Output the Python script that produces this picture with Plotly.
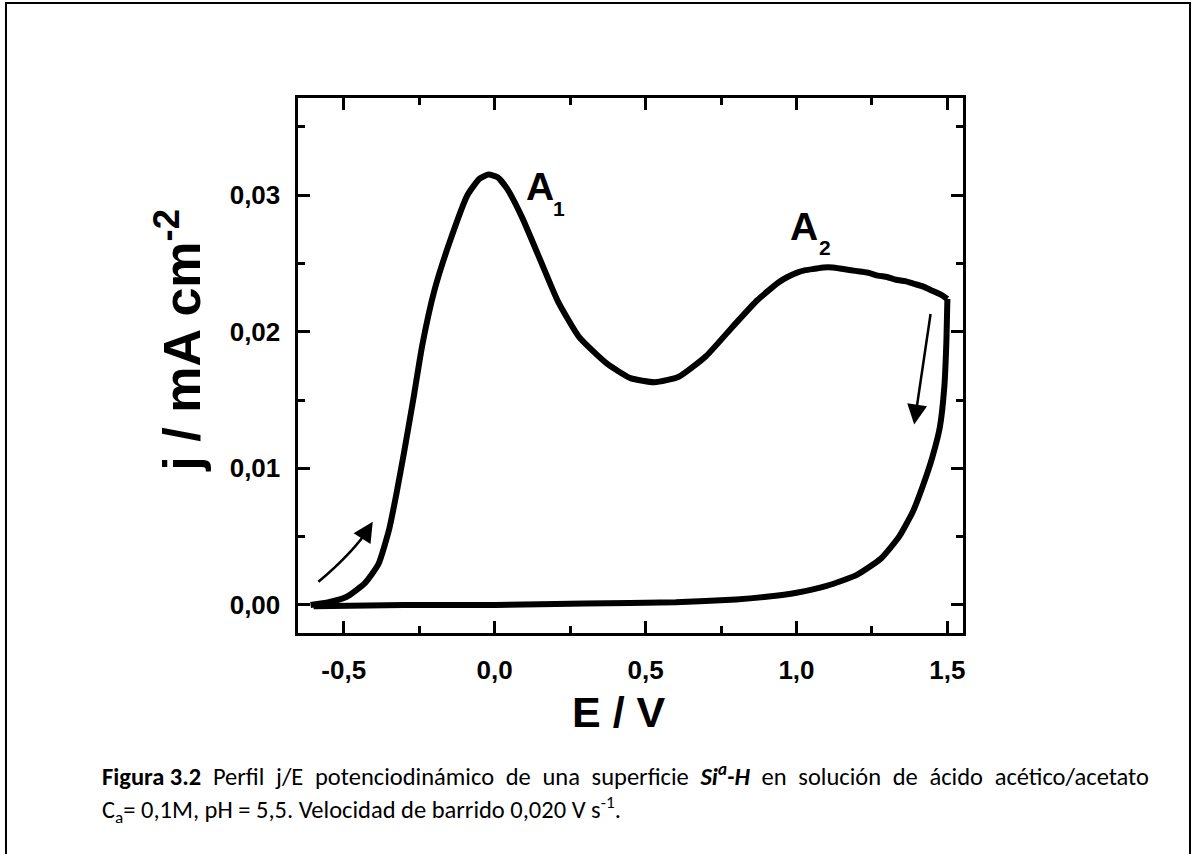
import plotly.graph_objects as go

# ---------------- data ----------------
E_forward = [-0.61, -0.55, -0.49, -0.43, -0.385, -0.35, -0.325, -0.30, -0.27, -0.24,
             -0.20, -0.15, -0.09, -0.05, -0.02, 0.01, 0.04, 0.09, 0.15, 0.21,
             0.28, 0.37, 0.45, 0.53, 0.61, 0.70, 0.79, 0.87, 0.94, 0.97,
             1.00, 1.03, 1.06, 1.09, 1.12, 1.15, 1.18, 1.21, 1.24, 1.27,
             1.30, 1.33, 1.36, 1.39, 1.42, 1.45, 1.48, 1.50]
j_forward = [0.0000, 0.0002, 0.0006, 0.0016, 0.0030, 0.0055, 0.0082, 0.0112, 0.0150, 0.0190,
             0.0230, 0.0265, 0.0300, 0.0312, 0.0315, 0.0313, 0.0305, 0.0284, 0.0253, 0.0222,
             0.0196, 0.0177, 0.0166, 0.0163, 0.0167, 0.0182, 0.0204, 0.0223, 0.0236, 0.0240,
             0.0243, 0.0245, 0.0246, 0.0247, 0.0247, 0.0246, 0.0245, 0.0244, 0.0243, 0.0241,
             0.0240, 0.0238, 0.0237, 0.0235, 0.0233, 0.0230, 0.0227, 0.0224]

E_reverse = [1.50, 1.497, 1.49, 1.475, 1.45, 1.42, 1.385, 1.34, 1.28, 1.20,
             1.10, 1.00, 0.90, 0.80, 0.60, 0.30, 0.00, -0.30, -0.60]
j_reverse = [0.0224, 0.0195, 0.0160, 0.0130, 0.0108, 0.0088, 0.0068, 0.0050, 0.0034, 0.0022,
             0.0014, 0.0009, 0.0006, 0.0004, 0.0002, 0.0001, 0.0000, 0.0000, -0.0001]

x_tickvals = [-0.5, 0.0, 0.5, 1.0, 1.5]
x_ticktext = ["-0,5", "0,0", "0,5", "1,0", "1,5"]
x_minor = [-0.25, 0.25, 0.75, 1.25]
y_tickvals = [0.00, 0.01, 0.02, 0.03]
y_ticktext = ["0,00", "0,01", "0,02", "0,03"]
y_minor = [0.005, 0.015, 0.025, 0.035]

x_range = [-0.65, 1.553]
y_range = [-0.00205, 0.0371]

J = " \u2005"  # justified word gap
caption_words1 = ["<b>Figura 3.2</b>", "Perfil", "j/E", "potenciodinámico", "de", "una",
                  "superficie", "<b><i>Si<sup>a</sup>-H</i></b>", "en", "solución", "de",
                  "ácido", "acético/acetato"]
caption_line1 = J.join(caption_words1)
caption_line2 = "C<sub>a</sub>= 0,1M, pH = 5,5. Velocidad de barrido 0,020 V s<sup>-1</sup>."

# ---------------- figure ----------------
W, H = 1195, 854
def px(x):
    return x / W
def py(y):
    return 1 - y / H

fig = go.Figure()
for E, j in ((E_forward, j_forward), (E_reverse, j_reverse)):
    fig.add_trace(go.Scatter(x=E, y=j, mode="lines",
                             line=dict(color="black", width=6, shape="spline", smoothing=0.5),
                             hoverinfo="skip"))

tickfont = dict(family="Liberation Sans, Arial", size=26, color="black", weight="bold")
axis_common = dict(showline=True, linewidth=3, linecolor="black", mirror="ticks",
                   ticks="inside", ticklen=12, tickwidth=3, tickcolor="black",
                   showgrid=False, zeroline=False, tickfont=tickfont, fixedrange=True)

fig.update_xaxes(domain=[px(299), px(965)], range=x_range, tickmode="array",
                 tickvals=x_tickvals, ticktext=x_ticktext, ticklabelstandoff=12,
                 minor=dict(tickmode="array", tickvals=x_minor, ticks="inside",
                            ticklen=7, tickwidth=3, tickcolor="black"),
                 **axis_common)
fig.update_yaxes(domain=[py(633), py(98)], range=y_range, tickmode="array",
                 tickvals=y_tickvals, ticktext=y_ticktext, ticklabelstandoff=10,
                 minor=dict(tickmode="array", tickvals=y_minor, ticks="inside",
                            ticklen=7, tickwidth=3, tickcolor="black"),
                 **axis_common)

bold = lambda s: dict(family="Liberation Sans, Arial", size=s, color="black", weight="bold")
cap_font = dict(family="Carlito, Calibri, Lato", size=24.5, color="black")

annotations = [
    # axis titles
    dict(text="E / V", x=px(620), y=py(712), xref="paper", yref="paper",
         showarrow=False, font=bold(43), xanchor="center", yanchor="middle"),
    dict(text="j / mA cm<sup>-2</sup>", x=px(214), y=py(340), xref="paper", yref="paper",
         showarrow=False, font=bold(52), textangle=-90, xanchor="right", yanchor="middle"),
    # peak labels
    dict(text="A", x=px(541), y=py(186), xref="paper", yref="paper", showarrow=False,
         font=bold(39), xanchor="center", yanchor="middle"),
    dict(text="1", x=px(560), y=py(208), xref="paper", yref="paper", showarrow=False,
         font=bold(21), xanchor="center", yanchor="middle"),
    dict(text="A", x=px(805), y=py(226), xref="paper", yref="paper", showarrow=False,
         font=bold(39), xanchor="center", yanchor="middle"),
    dict(text="2", x=px(826), y=py(247), xref="paper", yref="paper", showarrow=False,
         font=bold(21), xanchor="center", yanchor="middle"),
    # arrows
    dict(text="", x=1.39, y=0.0132, ax=1.445, ay=0.0214, xref="x", yref="y",
         axref="x", ayref="y", showarrow=True, arrowhead=2, arrowsize=1.6,
         arrowwidth=2.5, arrowcolor="black", standoff=0),
    dict(text="", x=-0.404, y=0.0061, ax=-0.424, ay=0.0054, xref="x", yref="y",
         axref="x", ayref="y", showarrow=True, arrowhead=2, arrowsize=1.6,
         arrowwidth=2.5, arrowcolor="black", standoff=0),
    # caption
    dict(text=caption_line1, x=px(100), y=py(775), xref="paper", yref="paper",
         showarrow=False, xanchor="left", yanchor="middle", font=cap_font),
    dict(text=caption_line2, x=px(100), y=py(810), xref="paper", yref="paper",
         showarrow=False, xanchor="left", yanchor="middle", font=cap_font),
]

shapes = [
    # outer frame
    dict(type="rect", xref="paper", yref="paper", x0=px(6), x1=px(1192), y0=py(870), y1=py(3),
         line=dict(color="black", width=2), fillcolor="rgba(0,0,0,0)", layer="below"),
    # curved arrow shaft
    dict(type="path", xref="x", yref="y",
         path="M -0.584,0.0017 Q -0.47,0.0038 -0.41,0.0058",
         line=dict(color="black", width=2.5)),
]

fig.update_layout(width=W, height=H, margin=dict(l=0, r=0, t=0, b=0),
                  paper_bgcolor="white", plot_bgcolor="white", showlegend=False,
                  annotations=annotations, shapes=shapes)

fig.write_html("out.html")
